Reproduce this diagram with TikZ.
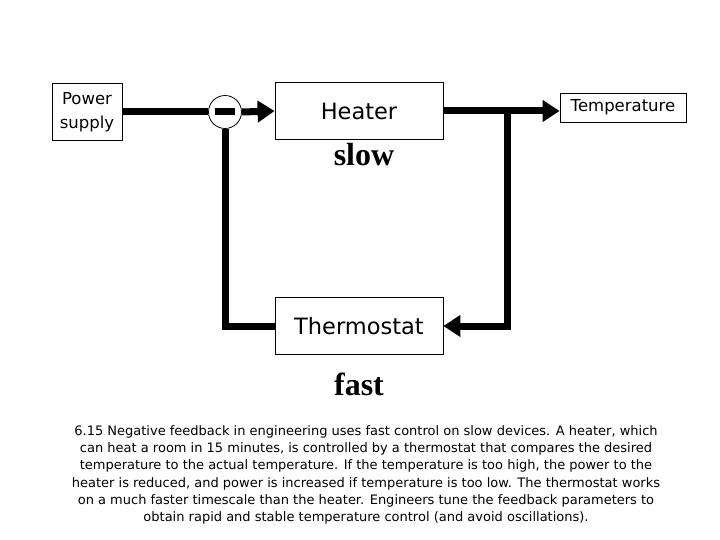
\documentclass[tikz,border=0pt]{standalone}
\usepackage{fontspec}
\setmainfont{DejaVu Sans}
\newfontfamily\boldserif{Liberation Serif}
\usetikzlibrary{arrows.meta,positioning,calc}

\begin{document}
\begin{tikzpicture}[
    x=1pt, y=-1pt,
    >={Triangle[length=17pt, width=21pt]},
    block/.style={rectangle, draw, line width=0.8pt, align=center, inner sep=0pt},
    wire/.style={line width=7pt, black},
    speed/.style={font=\boldserif\bfseries\fontsize{32}{34}\selectfont},
    caption/.style={font=\fontsize{13}{17.3}\selectfont, align=center},
]
\useasboundingbox (0,0) rectangle (720,540);

\node[block, minimum width=70pt, minimum height=57pt, font=\fontsize{16.5}{24}\selectfont] (supply) at (87,112) {Power\\supply};
\node[circle, draw, line width=0.8pt, minimum size=33pt, inner sep=0pt] (sum) at (225,112) {};
\fill (sum.center) ++(-10,-3.5) rectangle ++(20,7);
\node[block, minimum width=168pt, minimum height=57pt, font=\fontsize{22.5}{24}\selectfont] (heater) at (359,111) {Heater};
\node[block, minimum width=126pt, minimum height=29pt, font=\fontsize{16.5}{18}\selectfont] (temp) at (623,107.5) {Temperature};
\node[block, minimum width=168pt, minimum height=57pt, font=\fontsize{22.5}{24}\selectfont] (thermo) at (359,326) {Thermostat};

\node[speed] (slow) at (364,155) {slow};
\node[speed] (fast) at (359,384) {fast};

\coordinate (branch) at (507,111);

\draw[wire] (supply.east) -- (sum.west);
\draw[wire, ->] (sum.east) -- (heater.west);
\draw[wire, ->] (heater.east) -- (heater.east -| temp.west);
\draw[wire, ->] ($(branch)+(0,-3.5)$) |- (thermo.east);
\draw[wire] (thermo.west) -| (sum.south);

% figure caption
\node[caption] (text) at (366,475) {6.15 Negative feedback in engineering uses fast control on slow devices. A heater, which\\
can heat a room in 15 minutes, is controlled by a thermostat that compares the desired\\
temperature to the actual temperature. If the temperature is too high, the power to the\\
heater is reduced, and power is increased if temperature is too low. The thermostat works\\
on a much faster timescale than the heater. Engineers tune the feedback parameters to\\
obtain rapid and stable temperature control (and avoid oscillations).};
\end{tikzpicture}
\end{document}
